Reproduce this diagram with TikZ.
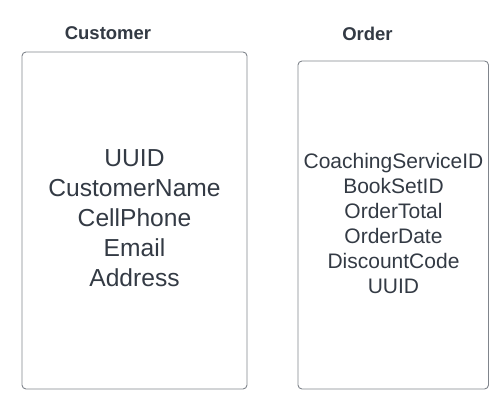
\documentclass[tikz,border=0pt]{standalone}
\usepackage{fontspec}
\setmainfont{Liberation Sans}
\definecolor{txt}{HTML}{333A44}
\definecolor{bord}{HTML}{80858C}
\tikzset{
  entity/.style={draw=bord, line width=0.9pt, rounded corners=4pt},
  title/.style={text=txt, font=\fontsize{18.5}{22}\selectfont\bfseries, inner sep=0pt},
  attrsbig/.style={text=txt, align=center, inner sep=0pt, font=\fontsize{24.6}{30}\selectfont},
  attrssmall/.style={text=txt, align=center, inner sep=0pt, font=\fontsize{21}{25}\selectfont},
}
\begin{document}
\begin{tikzpicture}[x=1pt,y=1pt]
\useasboundingbox (0,0) rectangle (504,409);
\draw[entity] (22,20) rectangle (247,357);
\draw[entity] (298,20) rectangle (488.5,348);
\node[title] (ct) at (108,375.5) {Customer};
\node[title] (ot) at (367.5,375.5) {Order};
\node[attrsbig] (ca) at (134.5,191) {UUID\\CustomerName\\CellPhone\\Email\\Address};
\node[attrssmall] (oa) at (393.5,186) {CoachingServiceID\\BookSetID\\OrderTotal\\OrderDate\\DiscountCode\\UUID};
\end{tikzpicture}
\end{document}
